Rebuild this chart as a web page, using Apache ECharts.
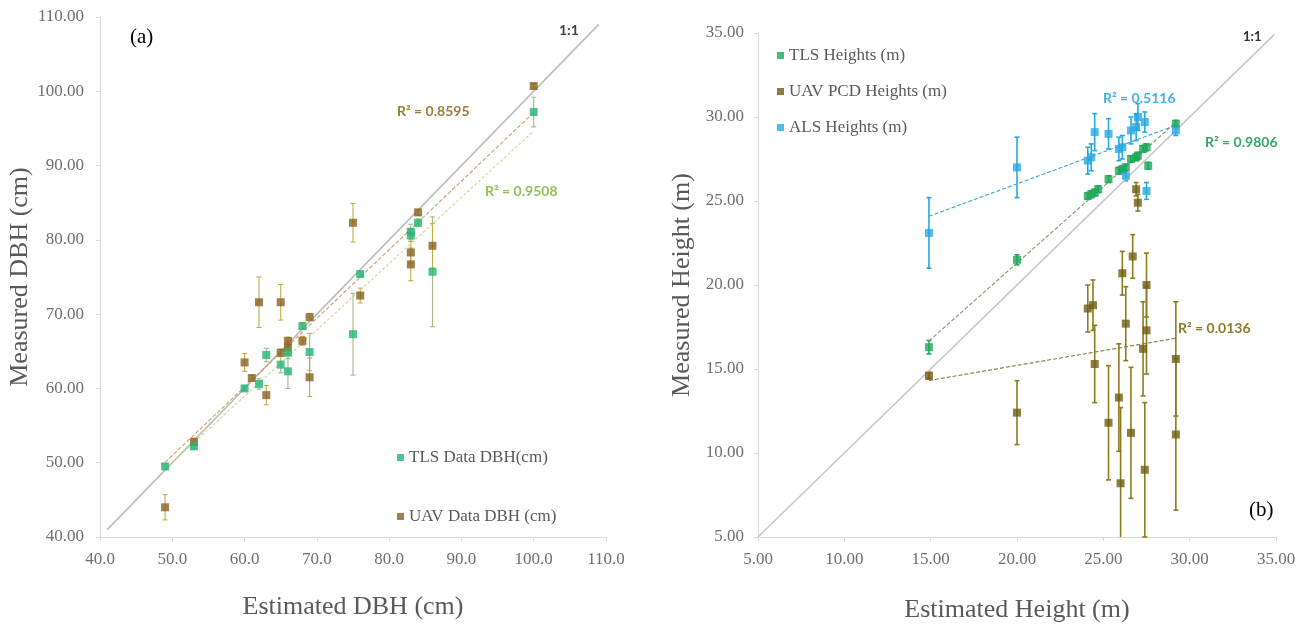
<!DOCTYPE html>
<html><head><meta charset="utf-8">
<script src="https://cdn.jsdelivr.net/npm/echarts@6/dist/echarts.min.js"></script>
<style>html,body{margin:0;padding:0;background:#fff}#c{width:1304px;height:628px}</style>
</head><body><div id="c"></div>
<script>
// ---------- Panel (a): DBH ----------
const dbhTlsX   = [49, 53, 60, 62, 63, 65, 66, 66, 68, 69, 75, 76, 83, 83, 84, 86, 100];
const dbhTlsY   = [49.5, 52.2, 60.0, 60.6, 64.5, 63.2, 64.8, 62.3, 68.4, 64.9, 67.3, 75.4, 81.1, 80.6, 82.3, 75.7, 97.2];
const dbhTlsErr = [0.3, 0.3, 0.3, 0.7, 0.9, 1.1, 0.8, 2.3, 0.4, 2.5, 5.5, 0.3, 1.0, 0.8, 0.5, 7.4, 2.0];

const dbhUavX   = [49, 53, 60, 61, 62, 63, 65, 65, 66, 66, 68, 69, 69, 75, 76, 83, 83, 84, 86, 100];
const dbhUavY   = [44.0, 52.8, 63.5, 61.4, 71.6, 59.1, 71.6, 64.8, 66.4, 65.5, 66.4, 69.6, 61.5, 82.3, 72.5, 78.3, 76.7, 83.7, 79.2, 100.7];
const dbhUavErr = [1.7, 0.5, 1.2, 0.4, 3.4, 1.3, 2.4, 0.5, 0.5, 0.8, 0.6, 0.5, 2.6, 2.6, 1.0, 1.5, 2.2, 0.4, 3.0, 0.3];

const dbhOneToOne = [41, 109];
const dbhTicks = {min: 40, max: 110, interval: 10};

// ---------- Panel (b): Heights ----------
const hTlsX   = [14.9, 20.0, 24.1, 24.3, 24.5, 24.7, 25.3, 25.9, 26.1, 26.3, 26.6, 26.9, 27.0, 27.3, 27.5, 27.6, 29.2];
const hTlsY   = [16.3, 21.5, 25.3, 25.4, 25.5, 25.7, 26.3, 26.8, 26.9, 27.0, 27.5, 27.6, 27.7, 28.1, 28.2, 27.1, 29.6];
const hTlsErr = [0.4, 0.3, 0.2, 0.2, 0.2, 0.2, 0.2, 0.2, 0.2, 0.2, 0.2, 0.2, 0.2, 0.2, 0.2, 0.2, 0.2];

const hUavX   = [14.9, 20.0, 24.1, 24.4, 24.5, 25.3, 25.9, 26.0, 26.1, 26.3, 26.6, 26.7, 26.9, 27.0, 27.3, 27.4, 27.5, 27.5, 29.2, 29.2];
const hUavY   = [14.6, 12.4, 18.6, 18.8, 15.3, 11.8, 13.3, 8.2, 20.7, 17.7, 11.2, 21.7, 25.7, 24.9, 16.2, 9.0, 17.3, 20.0, 15.6, 11.1];
const hUavErr = [0.2, 1.9, 1.4, 1.5, 2.3, 3.4, 3.2, 4.5, 1.3, 2.2, 3.9, 1.3, 0.4, 0.5, 2.8, 4.0, 2.6, 1.9, 3.4, 4.5];

const hAlsX   = [14.9, 20.0, 24.1, 24.3, 24.5, 25.3, 25.9, 26.1, 26.3, 26.6, 26.9, 27.0, 27.4, 27.5, 29.2];
const hAlsY   = [23.1, 27.0, 27.4, 27.6, 29.1, 29.0, 28.1, 28.2, 26.5, 29.2, 29.4, 30.0, 29.7, 25.6, 29.2];
const hAlsErr = [2.1, 1.8, 0.8, 0.8, 1.1, 0.9, 0.7, 0.7, 0.3, 0.8, 0.8, 0.8, 0.6, 0.5, 0.3];

const hOneToOne = [5, 34.9];
const hTicks = {min: 5, max: 35, interval: 5};

// ---------- helpers ----------
const SERIF = '"Liberation Serif", "Times New Roman", serif';
const SANS = 'Lato, "Open Sans", sans-serif';

function zip(xs, ys) { return xs.map((x, i) => [x, ys[i]]); }
function errData(xs, ys, es) { return xs.map((x, i) => [x, ys[i] - es[i], ys[i] + es[i]]); }
function trend(xs, ys) {
  const n = xs.length;
  const mx = xs.reduce((a, b) => a + b, 0) / n;
  const my = ys.reduce((a, b) => a + b, 0) / n;
  let sxy = 0, sxx = 0;
  for (let i = 0; i < n; i++) { sxy += (xs[i] - mx) * (ys[i] - my); sxx += (xs[i] - mx) * (xs[i] - mx); }
  const b = sxy / sxx, a = my - b * mx;
  const x0 = Math.min(...xs), x1 = Math.max(...xs);
  return [[x0, a + b * x0], [x1, a + b * x1]];
}
function makeErrRender(yMin) {
  return function (params, api) {
    const x = api.value(0);
    const lo = Math.max(api.value(1), yMin), hi = api.value(2);
    const p1 = api.coord([x, lo]), p2 = api.coord([x, hi]);
    const w = 2.5;
    const style = { stroke: api.visual('color'), lineWidth: params.seriesName.indexOf('b') === 0 ? 1.6 : 1.1 };
    const kids = [
      { type: 'line', shape: { x1: p1[0], y1: p1[1], x2: p2[0], y2: p2[1] }, style: style },
      { type: 'line', shape: { x1: p2[0] - w, y1: p2[1], x2: p2[0] + w, y2: p2[1] }, style: style }
    ];
    if (api.value(1) >= yMin) kids.push({ type: 'line', shape: { x1: p1[0] - w, y1: p1[1], x2: p1[0] + w, y2: p1[1] }, style: style });
    return { type: 'group', children: kids };
  };
}
function errSeries(name, idx, data, color, yMin) {
  return { name: name, type: 'custom', xAxisIndex: idx, yAxisIndex: idx, data: data,
    encode: { x: 0, y: [1, 2] }, itemStyle: { color: color }, renderItem: makeErrRender(yMin),
    silent: true, z: 2 };
}
function scat(name, idx, data, color, size) {
  return { name: name, type: 'scatter', xAxisIndex: idx, yAxisIndex: idx, data: data,
    symbol: 'rect', symbolSize: size, itemStyle: { color: color }, z: 4 };
}
function line(name, idx, data, color, width, type) {
  return { name: name, type: 'line', xAxisIndex: idx, yAxisIndex: idx, data: data,
    showSymbol: false, symbol: 'none', silent: true,
    lineStyle: { color: color, width: width, type: type }, z: 3 };
}
function axis(idx, t, dec) {
  return {
    type: 'value', gridIndex: idx, min: t.min, max: t.max, interval: t.interval,
    axisLine: { show: true, onZero: false, lineStyle: { color: '#d9d9d9', width: 1 } },
    axisTick: { show: true, length: 4, lineStyle: { color: '#d9d9d9' } },
    splitLine: { show: false },
    axisLabel: { fontFamily: SERIF, fontSize: 17, color: '#6f6f6f', formatter: v => v.toFixed(dec) },
    nameTextStyle: { fontFamily: SERIF, fontSize: 26, color: '#595959' },
    nameLocation: 'middle'
  };
}

const C = {
  aTls: '#22b573', aUav: '#86621f', aTlsErr: '#a9b48a', aUavErr: '#c2aa45',
  bTls: '#1fa85a', bUav: '#6f5c12', bAls: '#27a9e1'
};

const xA0 = Object.assign(axis(0, dbhTicks, 1), { name: 'Estimated DBH (cm)', nameGap: 57 });
const yA0 = Object.assign(axis(0, dbhTicks, 2), { name: 'Measured DBH (cm)', nameGap: 60 });
const xA1 = Object.assign(axis(1, hTicks, 2), { name: 'Estimated Height (m)', nameGap: 60 });
const yA1 = Object.assign(axis(1, hTicks, 2), { name: 'Measured Height (m)', nameGap: 63 });
xA0.axisLabel.margin = 14; xA1.axisLabel.margin = 14;
yA0.axisLabel.margin = 16; yA1.axisLabel.margin = 14;

const legendText = { fontFamily: SERIF, fontSize: 17, color: '#595959' };

const option = {
  backgroundColor: '#ffffff',
  animation: false,
  grid: [
    { left: 100, top: 17, width: 506, height: 520, containLabel: false },
    { left: 758, top: 33, width: 518, height: 518, containLabel: false }
  ],
  xAxis: [xA0, xA1],
  yAxis: [yA0, yA1],
  legend: [
    { data: ['TLS Data DBH(cm)'], left: 392, top: 444, icon: 'rect', itemWidth: 7, itemHeight: 7, itemGap: 6, textStyle: legendText, selectedMode: false },
    { data: ['UAV Data DBH (cm)'], left: 392, top: 503, icon: 'rect', itemWidth: 7, itemHeight: 7, textStyle: legendText, selectedMode: false },
    { data: ['TLS Heights (m)', 'UAV PCD Heights (m)', 'ALS Heights (m)'], orient: 'vertical', left: 772, top: 42, icon: 'rect', itemWidth: 7, itemHeight: 7, itemGap: 19, textStyle: legendText, selectedMode: false }
  ],
  graphic: [
    { type: 'text', left: 130, top: 27, style: { text: '(a)', font: '21px ' + SERIF, fill: '#000' } },
    { type: 'text', left: 1249, top: 500, style: { text: '(b)', font: '21px ' + SERIF, fill: '#000' } },
    { type: 'text', left: 559, top: 23, style: { text: '1:1', font: 'bold 14px ' + SANS, fill: '#404040' } },
    { type: 'text', left: 1243, top: 30, style: { text: '1:1', font: 'bold 13px ' + SANS, fill: '#303030' } },
    { type: 'text', left: 397, top: 104, style: { text: 'R² = 0.8595', font: 'bold 14px ' + SANS, fill: '#9c7d35' } },
    { type: 'text', left: 485, top: 184, style: { text: 'R² = 0.9508', font: 'bold 14px ' + SANS, fill: '#8ec450' } },
    { type: 'text', left: 1103, top: 91, style: { text: 'R² = 0.5116', font: 'bold 14px ' + SANS, fill: '#3fb4e6' } },
    { type: 'text', left: 1205, top: 135, style: { text: 'R² = 0.9806', font: 'bold 14px ' + SANS, fill: '#35a866' } },
    { type: 'text', left: 1178, top: 321, style: { text: 'R² = 0.0136', font: 'bold 14px ' + SANS, fill: '#8f7a28' } }
  ],
  series: [
    // panel (a)
    line('a11', 0, [[dbhOneToOne[0], dbhOneToOne[0]], [dbhOneToOne[1], dbhOneToOne[1]]], '#bdbdbd', 1.6, 'solid'),
    line('aTlsTrend', 0, trend(dbhTlsX, dbhTlsY), '#cdd88e', 1.1, [3, 2]),
    line('aUavTrend', 0, trend(dbhUavX, dbhUavY), '#d49a62', 1.1, [4, 2]),
    errSeries('aTlsE', 0, errData(dbhTlsX, dbhTlsY, dbhTlsErr), C.aTlsErr, 40),
    errSeries('aUavE', 0, errData(dbhUavX, dbhUavY, dbhUavErr), C.aUavErr, 40),
    scat('UAV Data DBH (cm)', 0, zip(dbhUavX, dbhUavY), C.aUav, 8),
    scat('TLS Data DBH(cm)', 0, zip(dbhTlsX, dbhTlsY), C.aTls, 8),
    // panel (b)
    line('b11', 1, [[hOneToOne[0], hOneToOne[0]], [hOneToOne[1], hOneToOne[1]]], '#c8c8c8', 1.6, 'solid'),
    line('bTlsTrend', 1, trend(hTlsX, hTlsY), '#7a9a62', 1.1, [4, 2]),
    line('bAlsTrend', 1, trend(hAlsX, hAlsY), '#3aa6d6', 1.1, [4, 2]),
    line('bUavTrend', 1, trend(hUavX, hUavY), '#8a7a3a', 1.1, [4, 2]),
    errSeries('bUavE', 1, errData(hUavX, hUavY, hUavErr), '#8c7c1c', 5),
    errSeries('bTlsE', 1, errData(hTlsX, hTlsY, hTlsErr), C.bTls, 5),
    errSeries('bAlsE', 1, errData(hAlsX, hAlsY, hAlsErr), C.bAls, 5),
    scat('UAV PCD Heights (m)', 1, zip(hUavX, hUavY), C.bUav, 8),
    scat('TLS Heights (m)', 1, zip(hTlsX, hTlsY), C.bTls, 8),
    scat('ALS Heights (m)', 1, zip(hAlsX, hAlsY), C.bAls, 8)
  ]
};

const chart = echarts.init(document.getElementById('c'), null, { renderer: 'canvas' });
chart.setOption(option);
</script>
</body></html>
